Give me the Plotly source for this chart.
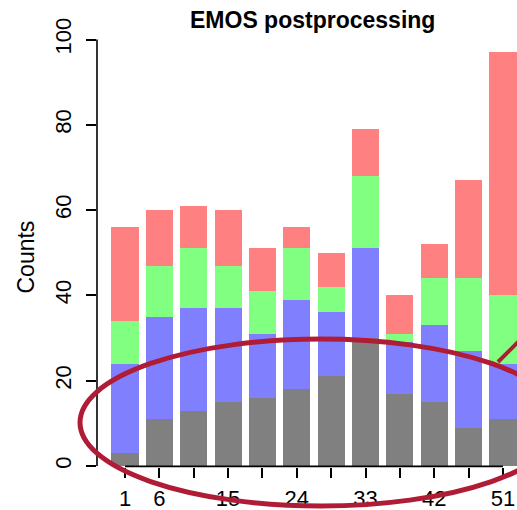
import plotly.graph_objects as go

# Rank bins and their axis labels (some labels are left out where they would crowd)
bins = list(range(1, 13))
bin_labels = ["1", "6", "", "15", "", "24", "", "33", "", "42", "", "51"]

# Counts per bin, stacked bottom to top
gray_counts = [3, 11, 13, 15, 16, 18, 21, 30, 17, 15, 9, 11]
blue_counts = [21, 24, 24, 22, 15, 21, 15, 21, 12, 18, 18, 13]
green_counts = [10, 12, 14, 10, 10, 12, 6, 17, 2, 11, 17, 16]
red_counts = [22, 13, 10, 13, 10, 5, 8, 11, 9, 8, 23, 57]

y_ticks = [0, 20, 40, 60, 80, 100]

W, H = 517, 510
L, R, T, B = 97, 0, 30, 43
PW, PH = W - L - R, H - T - B

FONT = "Liberation Sans, Arial, sans-serif"

fig = go.Figure()
for vals, col in [(gray_counts, "#808080"), (blue_counts, "#8080FF"),
                  (green_counts, "#80FF80"), (red_counts, "#FF8080")]:
    fig.add_trace(go.Bar(x=bins, y=vals, width=0.79, marker=dict(color=col, line=dict(width=0)),
                         showlegend=False, hoverinfo="skip"))


def px_x(p):
    return (p - L) / PW


def px_y(p):
    return (H - B - p) / PH


shapes = [
    # y axis line spanning the tick range
    dict(type="line", xref="paper", yref="y", x0=0, x1=0, y0=0, y1=100,
         line=dict(color="black", width=1.6)),
    # x axis line from first to last tick
    dict(type="line", xref="x", yref="paper", x0=bins[0], x1=bins[-1], y0=0.0015, y1=0.0015,
         line=dict(color="black", width=1.6)),
    # highlight ellipse around the lower bars
    dict(type="circle", xref="paper", yref="paper",
         x0=px_x(80), x1=px_x(562), y0=px_y(506), y1=px_y(339),
         line=dict(color="#B01C36", width=5), layer="above"),
    # pointer line leaving the ellipse
    dict(type="line", xref="paper", yref="paper",
         x0=px_x(498), y0=px_y(362), x1=px_x(530), y1=px_y(330),
         line=dict(color="#B01C36", width=4), layer="above"),
]

annotations = [
    dict(text="<b>EMOS postprocessing</b>", xref="paper", yref="paper",
         x=px_x(312.5), y=px_y(20), xanchor="center", yanchor="middle",
         showarrow=False, font=dict(family=FONT, size=23, color="black")),
    dict(text="Counts", xref="paper", yref="paper", x=px_x(25), y=px_y(257.5),
         xanchor="center", yanchor="middle", textangle=-90, showarrow=False,
         font=dict(family=FONT, size=23, color="black")),
]

fig.update_layout(
    barmode="stack",
    width=W, height=H,
    margin=dict(l=L, r=R, t=T, b=B, pad=0),
    paper_bgcolor="white", plot_bgcolor="white",
    shapes=shapes, annotations=annotations,
    xaxis=dict(range=[1 - 28 / 34.36, 1 + 392 / 34.36], tickmode="array",
               tickvals=bins, ticktext=bin_labels, ticks="outside", ticklen=10,
               tickwidth=1.6, tickcolor="black", showline=False, showgrid=False,
               zeroline=False, tickfont=dict(family=FONT, size=22, color="black"),
               ticklabelstandoff=2),
    yaxis=dict(range=[-1 / 4.265, (466 - 30) / 4.265], tickmode="array",
               tickvals=y_ticks, ticktext=[str(v) for v in y_ticks], ticks="outside",
               ticklen=10, tickwidth=1.6, tickcolor="black", tickangle=-90,
               showline=False, showgrid=False, zeroline=False,
               tickfont=dict(family=FONT, size=22, color="black"),
               ticklabelstandoff=6),
)

fig.write_html("out.html")
